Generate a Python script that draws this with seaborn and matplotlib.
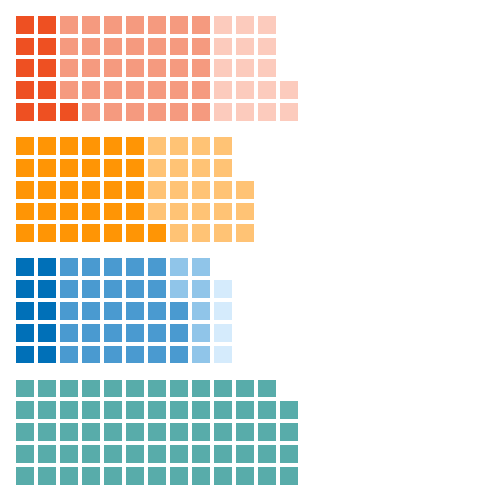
import numpy as np
import pandas as pd
import matplotlib
matplotlib.use("Agg")
import matplotlib.pyplot as plt
from matplotlib.colors import ListedColormap
import seaborn as sns

# Data: counts of squares per segment in each waffle group
group_names = ["Group A", "Group B", "Group C", "Group D"]
group_a_counts = [11, 34, 17]
group_b_counts = [31, 22]
group_c_counts = [10, 28, 7, 4]
group_d_counts = [64]

group_a_colors = ["#EE5022", "#F59A7F", "#FCCBBD"]
group_b_colors = ["#FF9505", "#FFC375"]
group_c_colors = ["#0070B8", "#4A9AD0", "#90C5E9", "#D5EBFC"]
group_d_colors = ["#58ACAA"]

groups = [
    (group_a_counts, group_a_colors),
    (group_b_counts, group_b_colors),
    (group_c_counts, group_c_colors),
    (group_d_counts, group_d_colors),
]

N_ROWS = 5
N_COLS = 13

fig = plt.figure(figsize=(5, 5), dpi=100)
W, H = 500, 500
pitch_x = 22.0
pitch_y = 21.8
left_px = 13.5
top_px = 13.8
group_step = 121.3

for gi, (counts, colors) in enumerate(groups):
    grid = np.full((N_ROWS, N_COLS), np.nan)
    k = 0
    for seg, c in enumerate(counts):
        for _ in range(c):
            col = k // N_ROWS
            row_from_bottom = k % N_ROWS
            grid[N_ROWS - 1 - row_from_bottom, col] = seg
            k += 1
    df = pd.DataFrame(grid)
    top = top_px + gi * group_step
    h = N_ROWS * pitch_y
    w = N_COLS * pitch_x
    ax = fig.add_axes([left_px / W, 1 - (top + h) / H, w / W, h / H])
    sns.heatmap(
        df, ax=ax, cmap=ListedColormap(colors),
        vmin=-0.5, vmax=len(colors) - 0.5,
        cbar=False, linewidths=1.6, linecolor="white",
        xticklabels=False, yticklabels=False,
    )
    ax.set_xlabel("")
    ax.set_ylabel("")
    ax.tick_params(left=False, bottom=False)
    ax.set_facecolor("white")

fig.savefig("out.png", dpi=100, facecolor="white")
